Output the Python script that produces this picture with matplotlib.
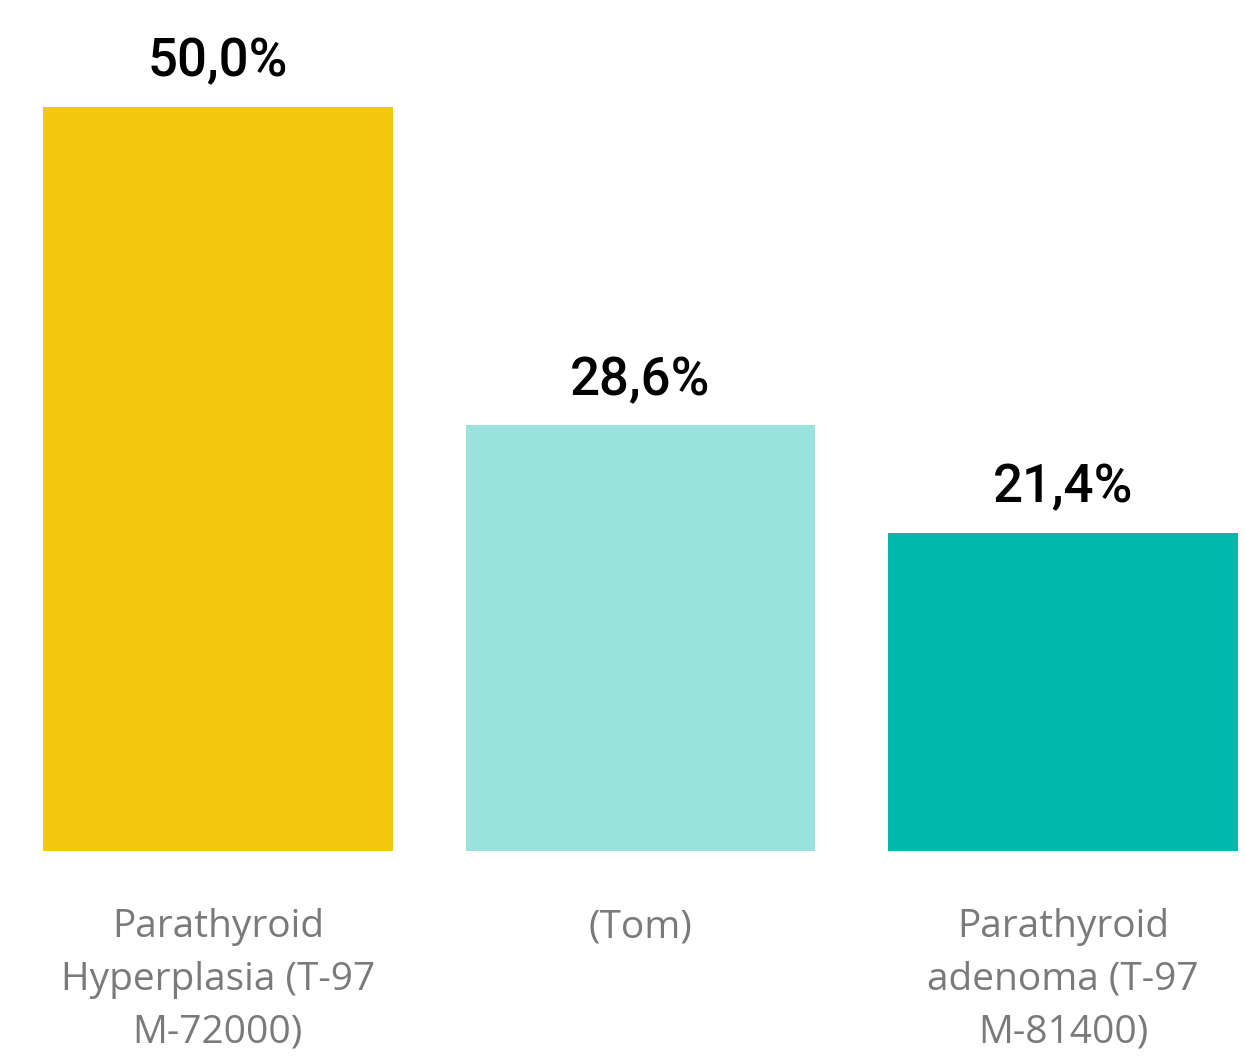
import matplotlib.pyplot as plt

categories = ["Parathyroid\nHyperplasia (T-97\nM-72000)", "(Tom)",
              "Parathyroid\nadenoma (T-97\nM-81400)"]
values = [50.0, 28.6, 21.4]
colors = ["#F2C80F", "#99E3DC", "#01B8AA"]

fig = plt.figure(figsize=(12.45, 10.6), dpi=100)
ax = fig.add_axes([43 / 1245, 209 / 1060, 1195 / 1245, 744 / 1060])

width = 350 / 423
x = range(len(values))
bars = ax.bar(x, values, width=width, color=colors)

for b, v in zip(bars, values):
    ax.annotate("{:.1f}%".format(v).replace(".", ","),
                (b.get_x() + b.get_width() / 2, v),
                xytext=(0, 22), textcoords="offset points",
                ha="center", va="baseline", fontsize=38,
                family="Roboto", weight="medium", color="black")

for i, c in enumerate(categories):
    ax.text(i, -3.85, c, ha="center", va="top", fontsize=28,
            family="Open Sans", color="#7a7a7a", linespacing=1.5)

ax.set_xlim(-width / 2, len(values) - 1 + width / 2)
ax.set_ylim(0, 50)
ax.axis("off")

fig.savefig("out.png", dpi=100)
